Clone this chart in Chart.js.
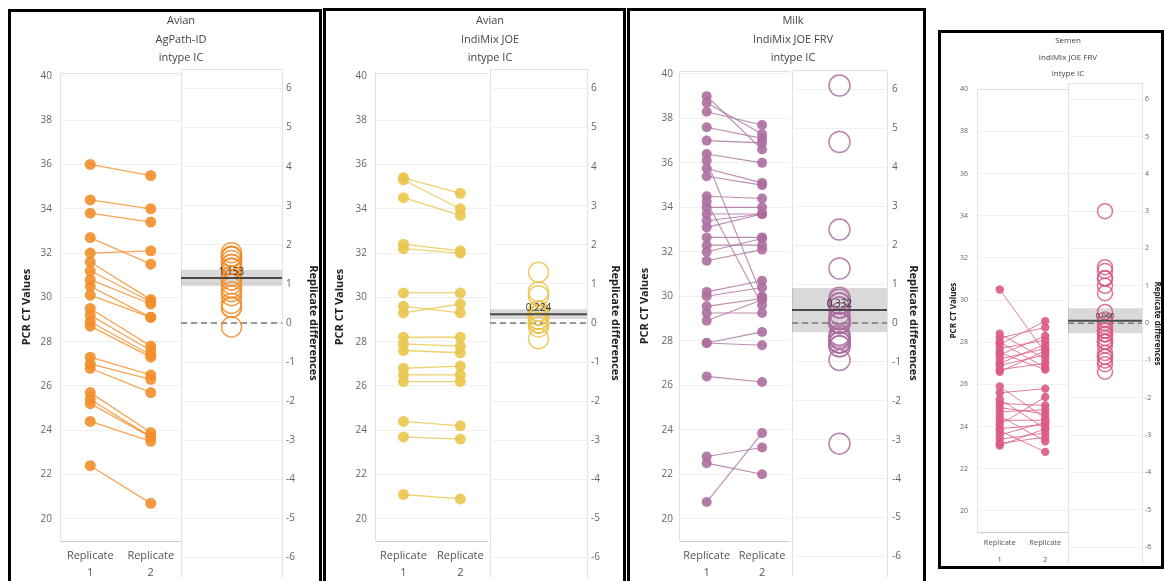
<!DOCTYPE html>
<html>
<head>
<meta charset="utf-8">
<title>Replicate PCR CT values by matrix and kit</title>
<script src="https://cdn.jsdelivr.net/npm/chart.js@4.4.1/dist/chart.umd.min.js"></script>
<style>
  html, body { margin: 0; padding: 0; background: #fff; }
  body { width: 1165px; height: 581px; overflow: hidden; position: relative; font-family: 'Open Sans', sans-serif; }
  .frame { position: absolute; border: 3px solid #000; box-sizing: border-box; z-index: 3; pointer-events: none; }
  .heading { position: absolute; transform: translateX(-50%); text-align: center; color: #444; white-space: nowrap; z-index: 2; }
  canvas { position: absolute; }
</style>
</head>
<body>
<script>
// ---------- shared labels ----------
const replicateLabels = [['Replicate', '1'], ['Replicate', '2']];
const ctAxisTitle = 'PCR CT Values';
const diffAxisTitle = 'Replicate differences';
const ctTickStep = 2;
const diffTickStep = 1;

// ---------- Avian / AgPath-ID ----------
const avianAgPathTitle = ['Avian', 'AgPath-ID', 'intype IC'];
const avianAgPathRep1 = [36.0, 34.4, 33.8, 32.7, 32.0, 31.6, 31.2, 30.8, 30.5, 30.1, 29.5, 29.2, 28.9, 28.7, 27.3, 27.0, 26.8, 25.7, 25.4, 25.2, 24.4, 22.4];
const avianAgPathRep2 = [35.5, 34.0, 33.4, 31.5, 32.1, 29.9, 29.8, 29.7, 29.1, 29.1, 27.8, 27.6, 27.4, 27.3, 26.5, 26.3, 25.7, 23.9, 23.7, 23.7, 23.5, 20.7];
const avianAgPathMean = 1.153;
const avianAgPathCI = [0.95, 1.36];

// ---------- Avian / IndiMix JOE ----------
const avianIndiMixTitle = ['Avian', 'IndiMix JOE', 'intype IC'];
const avianIndiMixRep1 = [35.4, 35.3, 34.5, 32.4, 32.2, 30.2, 29.3, 29.6, 28.2, 27.9, 27.6, 26.8, 26.5, 26.2, 24.4, 23.7, 21.1];
const avianIndiMixRep2 = [34.7, 34.0, 33.7, 32.1, 32.0, 30.2, 29.7, 29.3, 28.2, 27.8, 27.5, 26.9, 26.5, 26.2, 24.2, 23.6, 20.9];
const avianIndiMixMean = 0.224;
const avianIndiMixCI = [0.10, 0.35];

// ---------- Milk / IndiMix JOE FRV ----------
const milkTitle = ['Milk', 'IndiMix JOE FRV', 'intype IC'];
const milkRep1 = [39.0, 38.7, 38.3, 37.6, 37.0, 36.4, 36.1, 35.75, 35.4, 34.5, 34.25, 34.0, 33.7, 33.4, 33.1, 32.65, 32.3, 32.0, 31.6, 30.2, 30.0, 29.55, 29.25, 28.9, 27.9, 27.9, 26.4, 22.8, 22.5, 20.75];
const milkRep2 = [36.6, 37.3, 37.7, 37.1, 36.9, 36.0, 30.0, 35.1, 35.0, 34.4, 29.6, 34.0, 33.7, 33.7, 33.7, 32.65, 32.3, 32.6, 32.1, 30.7, 30.4, 29.9, 29.25, 29.85, 28.4, 27.8, 26.15, 23.2, 22.0, 23.85];
const milkMean = 0.332;
const milkCI = [-0.24, 0.90];

// ---------- Semen / IndiMix JOE FRV ----------
const semenTitle = ['Semen', 'IndiMix JOE FRV', 'intype IC'];
const semenRep1 = [30.5, 28.4, 28.2, 28.0, 27.9, 27.7, 27.5, 27.4, 27.2, 27.0, 26.9, 26.7, 26.6,
                   25.9, 25.6, 25.3, 25.1, 24.9, 24.7, 24.5, 24.3, 24.1, 23.9, 23.8, 23.6, 23.4, 23.2, 23.1];
const semenRep2 = [27.5, 27.2, 28.7, 26.8, 29.0, 28.1, 26.7, 28.3, 27.7, 27.9, 27.4, 27.0, 27.6,
                   24.4, 25.8, 23.9, 25.0, 24.6, 24.8, 23.3, 24.3, 25.4, 24.1, 22.8, 24.2, 23.7, 23.5, 23.9];
const semenMean = 0.066;
const semenCI = [-0.27, 0.40];

// ---------- assays, in drawing order ----------
const assays = [
  { title: avianAgPathTitle, rep1: avianAgPathRep1, rep2: avianAgPathRep2, mean: avianAgPathMean, ci: avianAgPathCI, color: '#F28E2B' },
  { title: avianIndiMixTitle, rep1: avianIndiMixRep1, rep2: avianIndiMixRep2, mean: avianIndiMixMean, ci: avianIndiMixCI, color: '#EAC54E' },
  { title: milkTitle, rep1: milkRep1, rep2: milkRep2, mean: milkMean, ci: milkCI, color: '#AD6E9F' },
  { title: semenTitle, rep1: semenRep1, rep2: semenRep2, mean: semenMean, ci: semenCI, color: '#DC5A84' }
];

// ---------- dashboard placement of each panel ----------
const layouts = [
  { frame: [8, 9, 314, 640], head: { x: 181, top: 11, lh: 18.5, size: 11 },
    left:  { x: 11, y: 59, w: 170, h: 522, axisW: 49, titlePad: 9, tickPad: 8, xAxisH: 40, lblLH: 17, lblPad: 6, min: 19, max: 40.13 },
    right: { x: 181, y: 59, w: 139, h: 528, axisW: 38, titlePad: 0, tickPad: 4, min: -6.5, max: 6.5, padB: 6 },
    fs: { tick: 10, axisTitle: 11, cat: 11, mean: 10 }, pointR: 5.5, lineW: 1.3, ringR: 10 },
  { frame: [323, 8, 303, 640], head: { x: 490, top: 11, lh: 18.5, size: 11 },
    left:  { x: 326, y: 59, w: 164, h: 522, axisW: 49, titlePad: 7, tickPad: 8, xAxisH: 40, lblLH: 17, lblPad: 6, min: 19, max: 40.13 },
    right: { x: 490, y: 59, w: 132, h: 528, axisW: 35, titlePad: 0, tickPad: 4, min: -6.5, max: 6.5, padB: 6 },
    fs: { tick: 10, axisTitle: 11, cat: 11, mean: 10 }, pointR: 5.5, lineW: 1.3, ringR: 10 },
  { frame: [627, 8, 299, 640], head: { x: 793, top: 11, lh: 18.5, size: 11 },
    left:  { x: 630, y: 59, w: 162, h: 522, axisW: 49, titlePad: 8, tickPad: 6, xAxisH: 40, lblLH: 17, lblPad: 6, min: 19, max: 40.13 },
    right: { x: 792, y: 59, w: 130, h: 528, axisW: 35, titlePad: 2, tickPad: 5, min: -6.5, max: 6.5, padB: 6 },
    fs: { tick: 10, axisTitle: 11, cat: 11, mean: 10 }, pointR: 5, lineW: 1.1, ringR: 10.5 },
  { frame: [938, 30, 226, 539], head: { x: 1068, top: 32, lh: 16.5, size: 8 },
    left:  { x: 941, y: 76, w: 127, h: 490, axisW: 36, titlePad: 8, tickPad: 9, xAxisH: 34, lblLH: 17, lblPad: 2, min: 19, max: 40 },
    right: { x: 1068, y: 76, w: 94, h: 495, axisW: 20, titlePad: 0, tickPad: 3, min: -6.45, max: 6.43, padB: 6 },
    fs: { tick: 7, axisTitle: 8, cat: 7.5, mean: 7.5 }, pointR: 4.2, lineW: 1, ringR: 7.5 }
];

Chart.defaults.font.family = "'Open Sans', sans-serif";
Chart.defaults.color = '#666';

function rgba(hex, a) {
  const n = parseInt(hex.slice(1), 16);
  return `rgba(${(n >> 16) & 255},${(n >> 8) & 255},${n & 255},${a})`;
}

function makeCanvas(box) {
  const c = document.createElement('canvas');
  c.width = box.w; c.height = box.h;
  Object.assign(c.style, { left: box.x + 'px', top: box.y + 'px', width: box.w + 'px', height: box.h + 'px' });
  document.body.appendChild(c);
  return c;
}

// whole-step ticks only, inside the scale range
function stepTicks(step) {
  return scale => {
    const out = [];
    for (let v = Math.ceil(scale.min / step) * step; v <= scale.max + 1e-9; v += step) out.push({ value: +v.toFixed(6) });
    scale.ticks = out;
  };
}

// prints the mean difference just above its reference line
const meanLabelPlugin = {
  id: 'meanLabel',
  afterDatasetsDraw(chart, args, opts) {
    const { ctx, scales: { x, y } } = chart;
    const px = x.getPixelForValue(0.5);
    const py = y.getPixelForValue(opts.value);
    ctx.save();
    ctx.font = `${opts.size}px 'Open Sans', sans-serif`;
    ctx.fillStyle = '#333';
    ctx.textAlign = 'center';
    ctx.textBaseline = 'bottom';
    ctx.fillText(opts.value.toFixed(3), px, py - 1);
    ctx.restore();
  }
};

const edgeColor = '#e2e2e2';
const gridColor = '#f0f0f0';

function topEdge() {
  return { type: 'linear', position: 'top', display: true, grid: { display: false, drawTicks: false },
           ticks: { display: false }, border: { display: true, color: edgeColor }, afterFit: s => { s.height = 0; } };
}

function buildPanel(a, L) {
  const frame = document.createElement('div');
  frame.className = 'frame';
  Object.assign(frame.style, { left: L.frame[0] + 'px', top: L.frame[1] + 'px', width: L.frame[2] + 'px', height: L.frame[3] + 'px' });
  document.body.appendChild(frame);

  const head = document.createElement('div');
  head.className = 'heading';
  Object.assign(head.style, { left: L.head.x + 'px', top: L.head.top + 'px', fontSize: L.head.size + 'px', lineHeight: L.head.lh + 'px' });
  a.title.forEach(t => { const d = document.createElement('div'); d.textContent = t; head.appendChild(d); });
  document.body.appendChild(head);

  const base = {
    responsive: false, animation: false, events: [], devicePixelRatio: 1
  };

  // paired CT values: one line per sample from replicate 1 to replicate 2
  new Chart(makeCanvas(L.left), {
    type: 'line',
    data: {
      labels: replicateLabels,
      datasets: a.rep1.map((v, i) => ({
        data: [v, a.rep2[i]],
        borderColor: rgba(a.color, 0.8), borderWidth: L.lineW,
        pointRadius: L.pointR, pointBackgroundColor: rgba(a.color, 0.9), pointBorderWidth: 0,
        clip: false
      }))
    },
    options: Object.assign({}, base, {
      layout: { autoPadding: false, padding: { top: 6, right: 0, bottom: 0, left: 0 } },
      plugins: { legend: { display: false }, tooltip: { enabled: false } },
      scales: {
        x: {
          type: 'category', offset: true,
          grid: { display: false, drawTicks: false },
          border: { display: true, color: '#cfcfcf', dash: [2, 2] },
          ticks: { color: '#555', font: { size: L.fs.cat, lineHeight: L.left.lblLH + 'px' }, padding: L.left.lblPad, maxRotation: 0, autoSkip: false },
          afterFit: s => { s.height = L.left.xAxisH; }
        },
        xTop: topEdge(),
        y: {
          min: L.left.min, max: L.left.max,
          afterBuildTicks: stepTicks(ctTickStep),
          grid: { color: gridColor, drawTicks: false },
          border: { display: true, color: edgeColor },
          ticks: { color: '#666', font: { size: L.fs.tick }, padding: L.left.tickPad },
          title: { display: true, text: ctAxisTitle, color: '#222', font: { size: L.fs.axisTitle, weight: 'bold' }, padding: { top: L.left.titlePad, bottom: 0 } },
          afterFit: s => { s.width = L.left.axisW; }
        }
      }
    })
  });

  // replicate differences with mean line, its interval band and the zero reference
  const diffs = a.rep1.map((v, i) => +(v - a.rep2[i]).toFixed(2));
  new Chart(makeCanvas(L.right), {
    type: 'scatter',
    data: {
      datasets: [
        { type: 'line', data: [{ x: 0, y: a.ci[1] }, { x: 1, y: a.ci[1] }], borderWidth: 0, pointRadius: 0, fill: '+1', backgroundColor: 'rgba(0,0,0,0.15)', order: 5 },
        { type: 'line', data: [{ x: 0, y: a.ci[0] }, { x: 1, y: a.ci[0] }], borderWidth: 0, pointRadius: 0, fill: false, order: 4 },
        { type: 'line', data: [{ x: 0, y: 0 }, { x: 1, y: 0 }], borderColor: '#7a7a7a', borderDash: [6, 4], borderWidth: 1.5, pointRadius: 0, order: 3 },
        { type: 'scatter', data: diffs.map(d => ({ x: 0.5, y: d })), pointRadius: L.ringR, pointBorderWidth: 1.5,
          pointBorderColor: rgba(a.color, 0.85), pointBackgroundColor: 'rgba(255,255,255,0)', order: 2, clip: false },
        { type: 'line', data: [{ x: 0, y: a.mean }, { x: 1, y: a.mean }], borderColor: '#4a4a4a', borderWidth: 2, pointRadius: 0, order: 1 }
      ]
    },
    options: Object.assign({}, base, {
      layout: { autoPadding: false, padding: { top: 6, right: 0, bottom: L.right.padB, left: 0 } },
      plugins: { legend: { display: false }, tooltip: { enabled: false }, meanLabel: { value: a.mean, size: L.fs.mean } },
      scales: {
        x: {
          type: 'linear', min: 0, max: 1, position: 'bottom',
          ticks: { display: false, stepSize: 1 },
          grid: { color: edgeColor, drawTicks: false },
          border: { display: false },
          afterFit: s => { s.height = 0; }
        },
        xTop: topEdge(),
        y: {
          position: 'right', min: L.right.min, max: L.right.max,
          afterBuildTicks: stepTicks(diffTickStep),
          grid: { color: gridColor, drawTicks: false },
          border: { display: true, color: edgeColor },
          ticks: { color: '#666', font: { size: L.fs.tick }, padding: L.right.tickPad },
          title: { display: true, text: diffAxisTitle, color: '#222', font: { size: L.fs.axisTitle, weight: 'bold' }, padding: { top: L.right.titlePad, bottom: 0 } },
          afterFit: s => { s.width = L.right.axisW; }
        }
      }
    }),
    plugins: [meanLabelPlugin]
  });
}

assays.forEach((a, i) => buildPanel(a, layouts[i]));
</script>
</body>
</html>
